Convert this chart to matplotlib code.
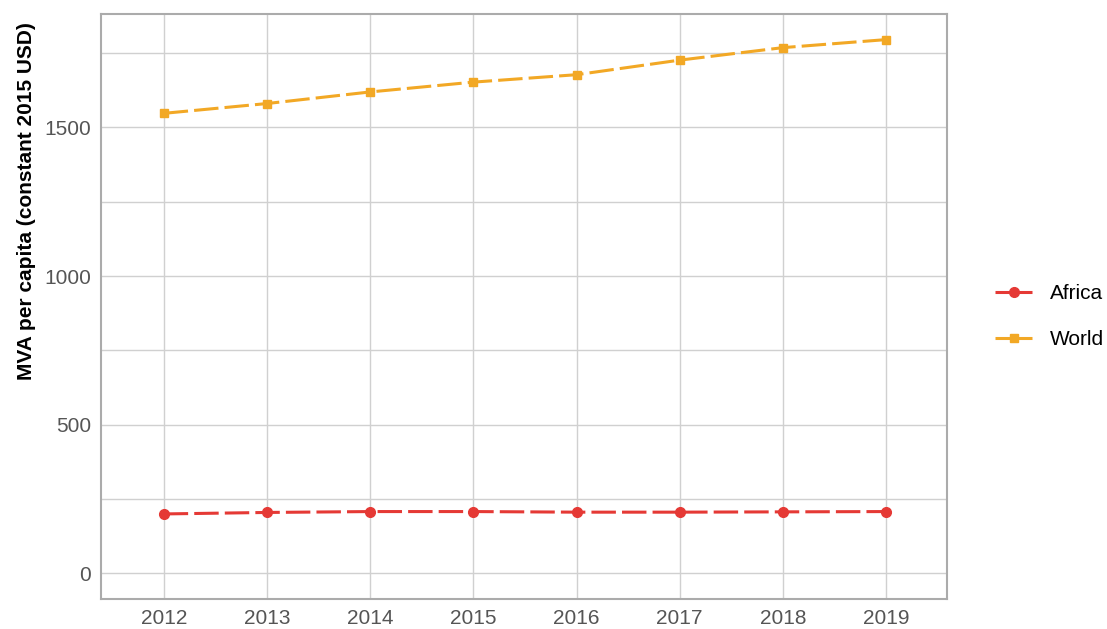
import numpy as np
import matplotlib
matplotlib.use("Agg")
import matplotlib.pyplot as plt
from matplotlib.ticker import MultipleLocator
from matplotlib.legend_handler import HandlerLine2D

years = [2012, 2013, 2014, 2015, 2016, 2017, 2018, 2019]
africa = [200, 205, 208, 208, 206, 206, 207, 208]
world = [1547, 1580, 1619, 1652, 1677, 1726, 1768, 1795]

plt.rcParams["font.family"] = ["Liberation Sans", "DejaVu Sans"]

fig = plt.figure(figsize=(11.07, 6.29), dpi=100)
ax = fig.add_axes([0.091, 0.0477, 0.7645, 0.93])

dash = (0, (8, 2))
ax.plot(years, africa, color="#e53935", lw=2.2, ls=dash,
        marker="o", ms=7, label="Africa")
ax.plot(years, world, color="#f2a825", lw=2.2, ls=dash,
        marker="s", ms=6.3, label="World")

ax.set_xlim(2011.39, 2019.59)
ax.set_ylim(-86, 1881)
ax.set_xticks(years)
ax.yaxis.set_major_locator(MultipleLocator(500))
ax.yaxis.set_minor_locator(MultipleLocator(250))
ax.grid(True, which="both", color="#d0d0d0", lw=1)
ax.set_axisbelow(True)
ax.tick_params(which="both", length=0, labelsize=15, colors="#555555", pad=7)
for s in ax.spines.values():
    s.set_color("#ababab")
    s.set_linewidth(1.5)

ax.set_ylabel("MVA per capita (constant 2015 USD)", fontsize=15,
              fontweight="bold", va="center")
ax.yaxis.set_label_coords(-0.088, 0.68)


# legend keys: short dash pattern so the marker sits in a gap
def key_style(handle, orig):
    handle.update_from(orig)
    handle.set_linestyle((0, (5.2, 2.2)))


leg = ax.legend(loc="center left", bbox_to_anchor=(1.0344, 0.483),
                frameon=False, fontsize=15, handlelength=1.8,
                labelspacing=1.3, handletextpad=0.85,
                handler_map={plt.Line2D: HandlerLine2D(update_func=key_style)})

fig.savefig("out.png", dpi=100)
